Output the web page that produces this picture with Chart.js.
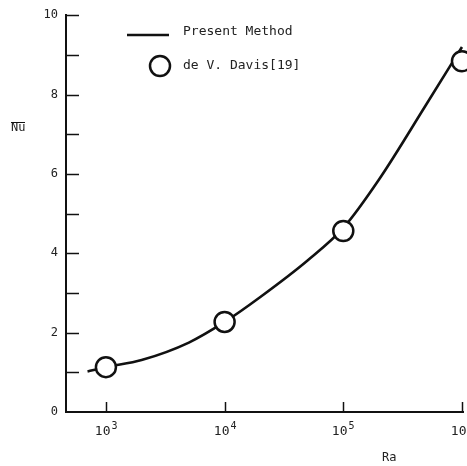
<!DOCTYPE HTML><html><head>
<meta name="viewport" content="width=device-width, initial-scale=1">
<style>
    html, body {
      margin: 0px;
      padding: 0px;
      background: #fff;
    }
</style>
</head>
<body>
<canvas id="myChart" width="467" height="466"></canvas>
<script src="https://cdn.jsdelivr.net/npm/chart.js@4.4.1/dist/chart.umd.min.js"></script>
<script>
// de V. Davis benchmark points
var raDavis = [1e3, 1e4, 1e5, 1e6];
var nuDavis = [1.13, 2.27, 4.56, 8.84];

// present method curve
var raPresent = [700, 1000, 2000, 5000, 1e4, 2e4, 5e4, 1e5, 2e5, 5e5, 1e6];
var nuPresent = [1.02, 1.13, 1.31, 1.75, 2.27, 2.9, 3.82, 4.64, 5.86, 7.75, 9.2];

// ticks
var xTickValues = [1e3, 1e4, 1e5, 1e6];
var xTickExp = ['3', '4', '5', '6'];
var yMin = 0, yMax = 10;

var mono = '"DejaVu Sans Mono", "Liberation Mono", monospace';
var ink = '#111';

function pts(xs, ys) {
  return xs.map(function (v, i) { return {x: v, y: ys[i]}; });
}

var decor = {
  id: 'decor',
  afterDraw: function (chart) {
    var ctx = chart.ctx;
    var x = chart.scales.x, y = chart.scales.y;
    ctx.save();
    ctx.strokeStyle = ink;
    ctx.lineWidth = 1.5;
    // inward ticks on the Nu axis
    for (var v = yMin + 1; v <= yMax; v++) {
      var py = Math.round(y.getPixelForValue(v)) + 0.5;
      ctx.beginPath();
      ctx.moveTo(x.left, py);
      ctx.lineTo(x.left + 13, py);
      ctx.stroke();
    }
    // upward ticks on the Ra axis + 10^n labels
    ctx.fillStyle = '#222';
    ctx.textBaseline = 'middle';
    xTickValues.forEach(function (val, i) {
      var px = Math.round(x.getPixelForValue(val)) + 0.5;
      ctx.beginPath();
      ctx.moveTo(px, y.bottom);
      ctx.lineTo(px, y.bottom - 10);
      ctx.stroke();
      ctx.font = '13px ' + mono;
      ctx.textAlign = 'right';
      ctx.fillText('10', px + 4, y.bottom + 20);
      ctx.font = '10px ' + mono;
      ctx.textAlign = 'left';
      ctx.fillText(xTickExp[i], px + 5, y.bottom + 14);
    });

    // axis titles
    ctx.font = '12px ' + mono;
    ctx.textAlign = 'left';
    ctx.fillText('Nu', 11, 128);
    ctx.lineWidth = 1;
    ctx.beginPath();
    ctx.moveTo(11, 122.5);
    ctx.lineTo(25, 122.5);
    ctx.stroke();
    ctx.fillText('Ra', 382, 458);

    // legend
    var ds0 = chart.data.datasets[1], ds1 = chart.data.datasets[0];
    ctx.strokeStyle = ds0.borderColor;
    ctx.lineWidth = ds0.borderWidth;
    ctx.beginPath();
    ctx.moveTo(127, 35);
    ctx.lineTo(169, 35);
    ctx.stroke();
    ctx.font = '13px ' + mono;
    ctx.fillText(ds0.label, 183, 32);
    ctx.beginPath();
    ctx.arc(160, 66, ds1.pointRadius, 0, Math.PI * 2);
    ctx.fillStyle = '#fff';
    ctx.fill();
    ctx.lineWidth = ds1.pointBorderWidth;
    ctx.strokeStyle = ds1.pointBorderColor;
    ctx.stroke();
    ctx.fillStyle = '#222';
    ctx.fillText(ds1.label, 183, 66);
    ctx.restore();
  }
};

var ctx = document.getElementById('myChart');
var myChart = new Chart(ctx, {
    type: 'scatter',
    data: {
        datasets: [{
            label: 'de V. Davis[19]',
            data: pts(raDavis, nuDavis),
            showLine: false,
            clip: false,
            pointStyle: 'circle',
            pointRadius: 10,
            pointBorderWidth: 2.5,
            pointBorderColor: ink,
            pointBackgroundColor: '#fff'
        }, {
            label: 'Present Method',
            data: pts(raPresent, nuPresent),
            showLine: true,
            clip: false,
            borderColor: ink,
            borderWidth: 2.6,
            pointRadius: 0,
            cubicInterpolationMode: 'monotone',
            fill: false
        }]
    },
    options: {
        responsive: false,
        animation: false,
        layout: {autoPadding: false, padding: {top: 15, right: 4, left: 0, bottom: 0}},
        plugins: {
            legend: {display: false},
            tooltip: {enabled: false}
        },
        scales: {
            x: {
                type: 'logarithmic',
                min: 461,
                max: 1.02e6,
                ticks: {display: false},
                grid: {display: false, drawTicks: false},
                border: {display: true, color: ink, width: 2},
                afterBuildTicks: function (s) {
                    s.ticks = xTickValues.map(function (v) { return {value: v}; });
                },
                afterFit: function (s) { s.height = 54; }
            },
            y: {
                min: yMin,
                max: yMax,
                ticks: {
                    stepSize: 1,
                    padding: 8,
                    color: '#222',
                    font: {family: mono, size: 12},
                    callback: function (v) { return v % 2 === 0 ? v : ''; }
                },
                grid: {display: false, drawTicks: false},
                border: {display: true, color: ink, width: 2},
                afterFit: function (s) { s.width = 66; }
            }
        }
    },
    plugins: [decor]
});
</script>
</body></html>
